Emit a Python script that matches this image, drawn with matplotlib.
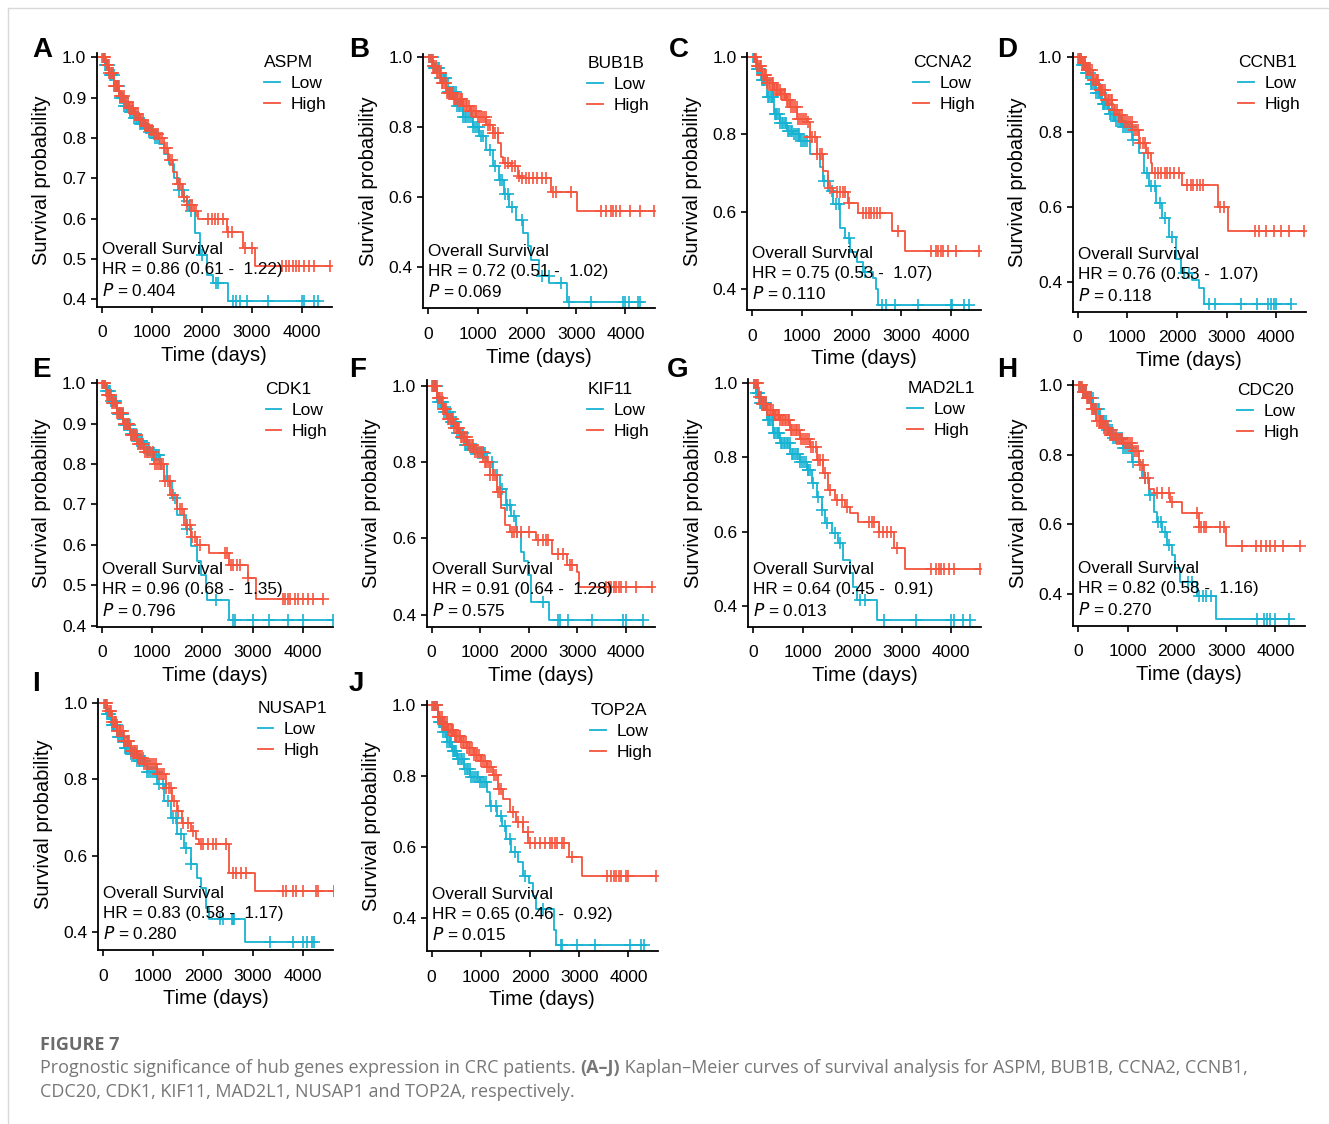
import numpy as np
import matplotlib
matplotlib.use('Agg')
import matplotlib.pyplot as plt

plt.rcParams['font.family'] = ['Liberation Sans', 'DejaVu Sans']

LOW_COL = '#17B3D2'
HIGH_COL = '#F5543D'

# shared early censoring times (dense, unreadable individually)
early_low = [15, 40, 65, 90, 115, 140, 165, 190, 215, 240, 265, 290, 320, 345, 370, 400, 425, 450, 480, 505,
             530, 560, 590, 620, 650, 680, 710, 740, 775, 810, 845, 880, 915, 950, 990, 1030, 1070, 1110]
early_high = [25, 50, 75, 100, 125, 150, 180, 205, 230, 255, 280, 305, 335, 360, 390, 415, 440, 470, 495, 520,
              550, 575, 605, 635, 665, 695, 725, 760, 790, 825, 860, 895, 930, 970, 1010, 1050, 1090, 1130,
              1170, 1210, 1260, 1310, 1360, 1410]

# A  ASPM
aspm_low_t = [0, 60, 150, 250, 350, 450, 550, 650, 750, 850, 950, 1050, 1150, 1250, 1350, 1450, 1550, 1650, 1750, 1867, 1967, 2100, 2233, 2533, 4333]
aspm_low_s = [1.0, 0.98, 0.955, 0.93, 0.90, 0.88, 0.865, 0.85, 0.835, 0.825, 0.815, 0.80, 0.785, 0.76, 0.735, 0.70, 0.67, 0.645, 0.62, 0.565, 0.51, 0.46, 0.44, 0.395, 0.395]
aspm_low_c = [1550, 1620, 1700, 1780, 2000, 2280, 2320, 2630, 2680, 2760, 2900, 3330, 4000, 4050, 4250, 4333]
aspm_high_t = [0, 80, 150, 250, 350, 450, 550, 650, 750, 850, 950, 1050, 1150, 1250, 1330, 1420, 1500, 1600, 1700, 1850, 1930, 2500, 2830, 3067, 4567]
aspm_high_s = [1.0, 0.98, 0.96, 0.93, 0.905, 0.89, 0.875, 0.86, 0.845, 0.83, 0.82, 0.81, 0.80, 0.775, 0.745, 0.715, 0.685, 0.655, 0.635, 0.62, 0.60, 0.568, 0.527, 0.483, 0.483]
aspm_high_c = [1520, 1560, 1640, 1700, 1760, 1800, 1880, 2130, 2200, 2270, 2330, 2420, 2530, 2600, 2870, 3000, 3600, 3680, 3750, 3820, 3880, 3950, 4050, 4150, 4250, 4567]

# B  BUB1B
bub1b_low_t = [0, 100, 235, 400, 570, 706, 907, 1040, 1176, 1310, 1445, 1546, 1646, 1781, 1915, 2016, 2083, 2251, 2453, 2822, 4300]
bub1b_low_s = [1.0, 0.97, 0.94, 0.90, 0.86, 0.83, 0.80, 0.775, 0.735, 0.69, 0.65, 0.61, 0.573, 0.535, 0.497, 0.46, 0.42, 0.374, 0.355, 0.302, 0.302]
bub1b_low_c = [1250, 1350, 1450, 1500, 1560, 1620, 1700, 1900, 2300, 2450, 2700, 2850, 3300, 3960, 4000, 4070, 4250, 4300]
bub1b_high_t = [0, 80, 168, 260, 370, 500, 706, 850, 975, 1176, 1310, 1411, 1478, 1512, 1680, 1814, 1882, 2486, 3024, 4570]
bub1b_high_s = [1.0, 0.975, 0.954, 0.925, 0.897, 0.88, 0.86, 0.845, 0.83, 0.807, 0.783, 0.754, 0.716, 0.697, 0.688, 0.66, 0.654, 0.614, 0.56, 0.56]
bub1b_high_c = [1560, 1620, 1700, 1750, 1850, 1900, 1980, 2050, 2120, 2200, 2300, 2390, 2540, 2600, 2900, 3500, 3600, 3700, 3750, 3800, 3900, 4100, 4300, 4570]

# C  CCNA2
ccna2_low_t = [0, 80, 167, 300, 433, 560, 700, 830, 967, 1167, 1367, 1433, 1533, 1633, 1767, 1867, 1967, 2100, 2233, 2433, 2500, 2533, 4367]
ccna2_low_s = [1.0, 0.97, 0.94, 0.897, 0.854, 0.83, 0.81, 0.80, 0.784, 0.75, 0.715, 0.68, 0.654, 0.62, 0.558, 0.532, 0.497, 0.47, 0.445, 0.43, 0.40, 0.358, 0.358]
ccna2_low_c = [1450, 1520, 1600, 1680, 1750, 1950, 2270, 2620, 2700, 2870, 3330, 4000, 4030, 4270, 4367]
ccna2_high_t = [0, 100, 200, 300, 430, 567, 670, 767, 900, 1100, 1167, 1300, 1433, 1533, 1633, 1933, 2133, 2813, 3067, 4567]
ccna2_high_s = [1.0, 0.976, 0.955, 0.932, 0.915, 0.906, 0.89, 0.87, 0.84, 0.832, 0.793, 0.75, 0.706, 0.662, 0.65, 0.623, 0.597, 0.55, 0.499, 0.499]
ccna2_high_c = [1560, 1700, 1770, 1830, 1870, 1950, 2230, 2300, 2350, 2400, 2450, 2520, 2580, 2930, 3600, 3700, 3750, 3800, 3850, 3950, 4100, 4567]

# D  CCNB1
ccnb1_low_t = [0, 80, 161, 260, 362, 500, 631, 760, 899, 1100, 1235, 1335, 1436, 1570, 1704, 1839, 1973, 2073, 2308, 2443, 2543, 4288]
ccnb1_low_s = [1.0, 0.98, 0.957, 0.93, 0.904, 0.875, 0.85, 0.83, 0.815, 0.78, 0.744, 0.69, 0.655, 0.61, 0.571, 0.52, 0.46, 0.424, 0.406, 0.384, 0.34, 0.34]
ccnb1_low_c = [1400, 1480, 1550, 1650, 1760, 1900, 2150, 2250, 2640, 2770, 3300, 3620, 3830, 3900, 3950, 4000, 4288]
ccnb1_high_t = [0, 80, 161, 300, 430, 560, 698, 800, 899, 1100, 1235, 1369, 1470, 1503, 2107, 2832, 3033, 4556]
ccnb1_high_s = [1.0, 0.985, 0.966, 0.94, 0.913, 0.885, 0.86, 0.845, 0.828, 0.806, 0.77, 0.744, 0.717, 0.69, 0.66, 0.60, 0.537, 0.537]
ccnb1_high_c = [1560, 1620, 1680, 1750, 1800, 1870, 1950, 2050, 2200, 2280, 2330, 2400, 2470, 2530, 2870, 2950, 3570, 3650, 3800, 3950, 4100, 4250, 4556]

# E  CDK1
cdk1_low_t = [0, 80, 167, 300, 433, 570, 700, 833, 967, 1167, 1300, 1400, 1500, 1667, 1767, 1900, 1967, 2067, 2100, 2533, 4600]
cdk1_low_s = [1.0, 0.98, 0.955, 0.925, 0.897, 0.875, 0.856, 0.84, 0.823, 0.80, 0.757, 0.715, 0.674, 0.64, 0.596, 0.56, 0.526, 0.484, 0.464, 0.413, 0.413]
cdk1_low_c = [1000, 1080, 1130, 1180, 1450, 1700, 2270, 2620, 2650, 3000, 3330, 3700, 4000, 4600]
cdk1_high_t = [0, 100, 200, 300, 430, 567, 700, 833, 1033, 1233, 1367, 1500, 1633, 1767, 1900, 2133, 2533, 2900, 3067, 4400]
cdk1_high_s = [1.0, 0.97, 0.95, 0.926, 0.90, 0.872, 0.85, 0.83, 0.80, 0.757, 0.724, 0.69, 0.65, 0.62, 0.60, 0.58, 0.55, 0.517, 0.466, 0.466]
cdk1_high_c = [1550, 1600, 1700, 1750, 1800, 1850, 1950, 2450, 2500, 2570, 2620, 2700, 2750, 2900, 3600, 3650, 3700, 3750, 3850, 3900, 4000, 4100, 4200, 4400]

# F  KIF11
kif11_low_t = [0, 122, 250, 392, 530, 662, 800, 932, 1135, 1270, 1405, 1540, 1642, 1743, 1845, 1912, 1980, 2047, 2419, 4345]
kif11_low_s = [1.0, 0.958, 0.93, 0.906, 0.875, 0.845, 0.835, 0.823, 0.80, 0.766, 0.73, 0.687, 0.66, 0.617, 0.565, 0.54, 0.504, 0.434, 0.386, 0.386]
kif11_low_c = [1250, 1350, 1450, 1550, 1620, 1700, 1760, 2290, 2600, 2650, 2800, 3300, 3950, 4000, 4345]
kif11_high_t = [0, 122, 224, 324, 460, 595, 730, 865, 1068, 1203, 1338, 1439, 1507, 1608, 2149, 2487, 2791, 2993, 3027, 4548]
kif11_high_s = [1.0, 0.967, 0.94, 0.914, 0.89, 0.866, 0.845, 0.827, 0.80, 0.766, 0.722, 0.679, 0.635, 0.618, 0.596, 0.559, 0.53, 0.513, 0.472, 0.472]
kif11_high_c = [1650, 1700, 1750, 1850, 2000, 2200, 2300, 2350, 2400, 2600, 2700, 2850, 2900, 3600, 3650, 3700, 3750, 3800, 3850, 3900, 4000, 4200, 4548]

# G  MAD2L1
mad2l1_low_t = [0, 60, 135, 270, 405, 540, 743, 946, 1081, 1182, 1284, 1385, 1453, 1588, 1723, 1824, 1959, 2027, 2095, 2500, 4392]
mad2l1_low_s = [1.0, 0.975, 0.946, 0.90, 0.865, 0.838, 0.81, 0.788, 0.766, 0.73, 0.694, 0.658, 0.622, 0.595, 0.568, 0.523, 0.487, 0.451, 0.415, 0.361, 0.361]
mad2l1_low_c = [1100, 1150, 1200, 1300, 1400, 1500, 1650, 1750, 2150, 2260, 2650, 3300, 4000, 4050, 4250, 4392]
mad2l1_high_t = [0, 101, 180, 270, 400, 540, 743, 946, 1149, 1284, 1419, 1520, 1655, 1858, 1959, 2128, 2534, 2838, 3074, 4595]
mad2l1_high_s = [1.0, 0.964, 0.945, 0.928, 0.915, 0.90, 0.874, 0.85, 0.829, 0.793, 0.757, 0.712, 0.685, 0.667, 0.649, 0.626, 0.60, 0.555, 0.50, 0.50]
mad2l1_high_c = [1450, 1550, 1700, 1800, 1900, 2350, 2400, 2450, 2550, 2620, 2700, 2780, 2900, 3600, 3700, 3750, 3800, 3850, 3950, 4050, 4595]

# H  CDC20
cdc20_low_t = [0, 80, 167, 300, 433, 570, 700, 900, 1100, 1300, 1433, 1533, 1600, 1700, 1800, 1900, 1967, 2067, 2400, 2800, 4267]
cdc20_low_s = [1.0, 0.98, 0.962, 0.93, 0.895, 0.87, 0.847, 0.818, 0.78, 0.732, 0.684, 0.636, 0.608, 0.579, 0.54, 0.512, 0.474, 0.435, 0.395, 0.328, 0.328]
cdc20_low_c = [1350, 1450, 1620, 1680, 1750, 1850, 2230, 2300, 2450, 2530, 2600, 2700, 3630, 3770, 3830, 3900, 4000, 4267]
cdc20_high_t = [0, 80, 167, 260, 367, 500, 633, 770, 900, 1100, 1233, 1333, 1433, 1533, 1867, 2100, 2450, 3000, 4500]
cdc20_high_s = [1.0, 0.98, 0.962, 0.93, 0.895, 0.875, 0.856, 0.845, 0.833, 0.81, 0.77, 0.732, 0.703, 0.689, 0.665, 0.632, 0.592, 0.539, 0.539]
cdc20_high_c = [1600, 1700, 1850, 1900, 2400, 2450, 2500, 2550, 2600, 2870, 2950, 3330, 3600, 3700, 3800, 3900, 4000, 4150, 4500]

# I  NUSAP1
nusap1_low_t = [0, 60, 147, 280, 413, 550, 680, 880, 1080, 1213, 1347, 1480, 1613, 1747, 1880, 1947, 2047, 2113, 2847, 4213]
nusap1_low_s = [1.0, 0.97, 0.943, 0.91, 0.883, 0.865, 0.848, 0.82, 0.787, 0.743, 0.70, 0.656, 0.62, 0.578, 0.543, 0.517, 0.465, 0.435, 0.374, 0.374]
nusap1_low_c = [1200, 1300, 1400, 1450, 1550, 1650, 1750, 2330, 2400, 2570, 2600, 2620, 3330, 3800, 4000, 4070, 4170, 4213]
nusap1_high_t = [0, 80, 180, 280, 413, 547, 680, 813, 1080, 1247, 1380, 1480, 1580, 1747, 1847, 1913, 2513, 3047, 4613]
nusap1_high_s = [1.0, 0.978, 0.95, 0.926, 0.90, 0.874, 0.855, 0.84, 0.813, 0.778, 0.743, 0.717, 0.687, 0.665, 0.643, 0.63, 0.556, 0.507, 0.507]
nusap1_high_c = [1500, 1600, 1700, 1800, 1950, 2000, 2100, 2200, 2250, 2450, 2600, 2650, 2750, 2850, 3600, 3650, 3800, 3850, 4000, 4250, 4300, 4613]

# J  TOP2A
top2a_low_t = [0, 120, 220, 320, 420, 520, 653, 787, 987, 1120, 1187, 1320, 1420, 1520, 1620, 1753, 1853, 1987, 2053, 2120, 2487, 2520, 4320]
top2a_low_s = [1.0, 0.953, 0.925, 0.896, 0.87, 0.849, 0.82, 0.797, 0.783, 0.755, 0.717, 0.689, 0.66, 0.623, 0.585, 0.557, 0.519, 0.50, 0.462, 0.425, 0.368, 0.326, 0.326]
top2a_low_c = [1200, 1300, 1400, 1500, 1600, 1700, 1900, 2270, 2620, 2650, 2950, 3330, 4030, 4250, 4320]
top2a_high_t = [0, 120, 220, 320, 450, 587, 720, 853, 1000, 1120, 1253, 1353, 1453, 1587, 1720, 1853, 1953, 2787, 3053, 4553]
top2a_high_s = [1.0, 0.967, 0.945, 0.929, 0.912, 0.896, 0.878, 0.859, 0.842, 0.826, 0.802, 0.764, 0.736, 0.698, 0.67, 0.642, 0.613, 0.571, 0.519, 0.519]
top2a_high_c = [1650, 1750, 1850, 1950, 2000, 2100, 2200, 2300, 2400, 2450, 2500, 2550, 2650, 2700, 2850, 3570, 3650, 3700, 3750, 3800, 3850, 3950, 4000, 4553]

genes = ['ASPM', 'BUB1B', 'CCNA2', 'CCNB1', 'CDK1', 'KIF11', 'MAD2L1', 'CDC20', 'NUSAP1', 'TOP2A']
letters = ['A', 'B', 'C', 'D', 'E', 'F', 'G', 'H', 'I', 'J']
hr_text = ['0.86 (0.61 -  1.22)', '0.72 (0.51 -  1.02)', '0.75 (0.53 -  1.07)', '0.76 (0.53 -  1.07)',
           '0.96 (0.68 -  1.35)', '0.91 (0.64 -  1.28)', '0.64 (0.45 -  0.91)', '0.82 (0.58 -  1.16)',
           '0.83 (0.58 -  1.17)', '0.65 (0.46 -  0.92)']
p_text = ['0.404', '0.069', '0.110', '0.118', '0.796', '0.575', '0.013', '0.270', '0.280', '0.015']

curves = [
    (aspm_low_t, aspm_low_s, aspm_low_c, aspm_high_t, aspm_high_s, aspm_high_c),
    (bub1b_low_t, bub1b_low_s, bub1b_low_c, bub1b_high_t, bub1b_high_s, bub1b_high_c),
    (ccna2_low_t, ccna2_low_s, ccna2_low_c, ccna2_high_t, ccna2_high_s, ccna2_high_c),
    (ccnb1_low_t, ccnb1_low_s, ccnb1_low_c, ccnb1_high_t, ccnb1_high_s, ccnb1_high_c),
    (cdk1_low_t, cdk1_low_s, cdk1_low_c, cdk1_high_t, cdk1_high_s, cdk1_high_c),
    (kif11_low_t, kif11_low_s, kif11_low_c, kif11_high_t, kif11_high_s, kif11_high_c),
    (mad2l1_low_t, mad2l1_low_s, mad2l1_low_c, mad2l1_high_t, mad2l1_high_s, mad2l1_high_c),
    (cdc20_low_t, cdc20_low_s, cdc20_low_c, cdc20_high_t, cdc20_high_s, cdc20_high_c),
    (nusap1_low_t, nusap1_low_s, nusap1_low_c, nusap1_high_t, nusap1_high_s, nusap1_high_c),
    (top2a_low_t, top2a_low_s, top2a_low_c, top2a_high_t, top2a_high_s, top2a_high_c),
]

# axes box in pixels (left, right, top, bottom) and y limits
boxes = [(96.7, 331.7, 53.3, 306.7), (423.3, 655, 54, 308.3), (747.3, 980.7, 53.3, 310), (1072.7, 1306, 53.3, 311.7),
         (96.7, 333, 380, 626.7), (426.7, 655, 380, 626.7), (748.3, 980.7, 379, 626.7), (1073.3, 1305, 381, 625.7),
         (98.3, 333, 699, 950), (426.7, 658, 701, 951)]
ylims = [(0.382, 1.01), (0.283, 1.009), (0.346, 1.01), (0.32, 1.011),
         (0.3975, 1.008), (0.369, 1.015), (0.343, 1.012), (0.31, 1.011),
         (0.354, 1.01), (0.308, 1.011)]
letter_pos = [(32, 50), (349, 50), (669, 50), (997, 50), (32, 370), (349, 370), (667, 370), (997, 370),
              (32, 684), (349, 684)]

W, H = 1329, 1124
fig = plt.figure(figsize=(W / 100, H / 100), dpi=100)


def surv_at(t, s, x):
    idx = np.searchsorted(t, x, side='right') - 1
    return np.array(s)[np.clip(idx, 0, len(s) - 1)]


for i, gene in enumerate(genes):
    l, r, t, b = boxes[i]
    ax = fig.add_axes([l / W, 1 - b / H, (r - l) / W, (b - t) / H])
    lt, ls, lc, ht, hs, hc = curves[i]
    for tt, ss, cc, early, col, lab in [(lt, ls, lc, early_low, LOW_COL, 'Low'),
                                        (ht, hs, hc, early_high, HIGH_COL, 'High')]:
        ax.step(tt, ss, where='post', color=col, lw=1.3, label=lab)
        cens = np.array(early + cc)
        ax.plot(cens, surv_at(tt, ss, cens), '+', color=col, ms=8, mew=1.2, ls='none')

    ax.set_xlim(-100, 4600)
    ax.set_ylim(*ylims[i])
    ax.set_xticks([0, 1000, 2000, 3000, 4000])
    if i in (0, 4):
        ax.set_yticks([0.4, 0.5, 0.6, 0.7, 0.8, 0.9, 1.0])
    else:
        ax.set_yticks([0.4, 0.6, 0.8, 1.0])
    ax.yaxis.set_major_formatter(plt.FormatStrFormatter('%.1f'))
    for sp in ['top', 'right']:
        ax.spines[sp].set_visible(False)
    for sp in ['left', 'bottom']:
        ax.spines[sp].set_linewidth(1.3)
    ax.tick_params(axis='both', width=1.2, length=4.5, labelsize=12.5, color='black')
    ax.tick_params(axis='x', pad=9)
    ax.tick_params(axis='y', pad=3)
    ax.set_xlabel('Time (days)', fontsize=14.5, labelpad=4)
    ax.set_ylabel('Survival probability', fontsize=14.5, labelpad=8)

    leg = ax.legend(title=gene, loc='upper right', bbox_to_anchor=(1.02, 1.035), frameon=False,
                    fontsize=12.5, title_fontsize=12.5, handlelength=0.9, handletextpad=0.6,
                    labelspacing=0.35, borderaxespad=0.2)
    leg._legend_box.align = 'left'

    ax.annotate('Overall Survival', xy=(0, 0), xycoords='axes fraction', xytext=(3.6, 41),
                textcoords='offset points', va='center', ha='left', fontsize=12.3)
    ax.annotate('HR = ' + hr_text[i], xy=(0, 0), xycoords='axes fraction', xytext=(3.6, 26.5),
                textcoords='offset points', va='center', ha='left', fontsize=12.3)
    ax.annotate('$\\it{P}$ = ' + p_text[i], xy=(0, 0), xycoords='axes fraction', xytext=(3.6, 12),
                textcoords='offset points', va='center', ha='left', fontsize=12.3)

    lx, ly = letter_pos[i]
    fig.text(lx / W, 1 - ly / H, letters[i], fontsize=20, fontweight='bold', ha='left', va='center')

# page border lines
fig.add_artist(plt.Line2D([8 / W, 8 / W], [0, 1 - 8 / H], color='#d8d8d8', lw=1))
fig.add_artist(plt.Line2D([8 / W, 1], [1 - 8 / H, 1 - 8 / H], color='#d8d8d8', lw=1))

# caption
cap_col = '#777777'
fig.text(40 / W, 1 - 1045 / H, 'FIGURE 7', fontsize=13, color='#6a6a6a', fontweight='bold',
         family=['Open Sans', 'DejaVu Sans'], va='center')
renderer = fig.canvas.get_renderer()
parts = [('Prognostic significance of hub genes expression in CRC patients. ', 'normal'),
         ('(A\u2013J)', 'bold'),
         (' Kaplan\u2013Meier curves of survival analysis for ASPM, BUB1B, CCNA2, CCNB1,', 'normal')]
x = 40
for txt, wt in parts:
    tobj = fig.text(x / W, 1 - 1068 / H, txt, fontsize=13, color=cap_col, fontweight=wt,
                    family=['Open Sans', 'DejaVu Sans'], va='center')
    x += tobj.get_window_extent(renderer).width
fig.text(40 / W, 1 - 1092 / H, 'CDC20, CDK1, KIF11, MAD2L1, NUSAP1 and TOP2A, respectively.', fontsize=13,
         color=cap_col, family=['Open Sans', 'DejaVu Sans'], va='center')

fig.savefig('out.png', dpi=100)
